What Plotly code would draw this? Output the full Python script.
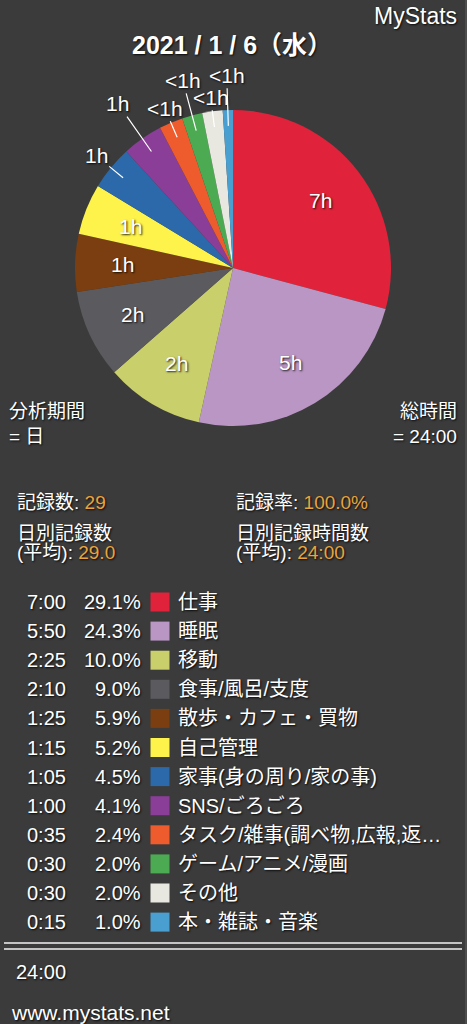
import math
import plotly.graph_objects as go

# ---------------- data ----------------
categories = ["仕事", "睡眠", "移動", "食事/風呂/支度", "散歩・カフェ・買物", "自己管理",
              "家事(身の周り/家の事)", "SNS/ごろごろ", "タスク/雑事(調べ物,広報,返…",
              "ゲーム/アニメ/漫画", "その他", "本・雑誌・音楽"]
minutes = [420, 350, 145, 130, 85, 75, 65, 60, 35, 30, 30, 15]
percent_labels = ["29.1%", "24.3%", "10.0%", "9.0%", "5.9%", "5.2%",
                  "4.5%", "4.1%", "2.4%", "2.0%", "2.0%", "1.0%"]
slice_labels = ["7h", "5h", "2h", "2h", "1h", "1h", "1h", "1h", "<1h", "<1h", "<1h", "<1h"]
colors = ["#e0233a", "#b996c3", "#c9cf6b", "#5b5a5f", "#7b3e10", "#fdf34b",
          "#2b69aa", "#8a3e97", "#ee5b2c", "#4caa52", "#e9e8e0", "#4a9fd1"]

title_text = "2021 / 1 / 6（水）"
record_count = "29"
record_rate = "100.0%"
daily_count_avg = "29.0"
daily_hours_avg = "24:00"
total_time = "24:00"

# ---------------- layout constants ----------------
W, H = 467, 1024
BG = "#3b3b3b"
ORANGE = "#e9a43c"
FONT = "Liberation Sans, Noto Sans CJK JP, sans-serif"
SHADOW = "1px 1px 2px rgba(0,0,0,0.85)"
cx, cy, R = 233, 268, 158


def px(x):
    return x / W


def py(y):
    return 1 - y / H


def hm(m):
    return f"{m // 60}:{m % 60:02d}"


fig = go.Figure()

fig.add_trace(go.Pie(
    values=minutes, labels=categories, sort=False, direction="clockwise", rotation=0,
    marker=dict(colors=colors, line=dict(width=0)),
    textinfo="none", hoverinfo="skip", showlegend=False,
    domain=dict(x=[px(cx - R), px(cx + R)], y=[py(cy + R), py(cy - R)]),
))

ann = []
total = sum(minutes)
cum = 0
k = 0
far = [1.12, 1.27, 1.10, 1.23, 1.09, 1.22]   # label distance (× radius) for outside labels
outside_idx = [6, 7, 8, 9, 10, 11]
for i, v in enumerate(minutes):
    mid = math.radians((cum + v / 2) / total * 360)
    cum += v
    s, c = math.sin(mid), math.cos(mid)
    font = dict(family=FONT, size=21, color="white", shadow=SHADOW)
    if i not in outside_idx:
        r = 0.70 * R
        ann.append(dict(x=px(cx + r * s), y=py(cy - r * c), xref="paper", yref="paper",
                        text=slice_labels[i], showarrow=False, font=font,
                        xanchor="center", yanchor="middle"))
    else:
        r0 = 0.90 * R
        r1 = far[k] * R
        ann.append(dict(x=px(cx + r0 * s), y=py(cy - r0 * c), xref="paper", yref="paper",
                        ax=(r1 - r0) * s, ay=-(r1 - r0) * c,
                        text=slice_labels[i], showarrow=True, arrowhead=0, arrowwidth=1.2,
                        arrowcolor="white", standoff=0, font=font))
        k += 1


def text(x, y, t, size=19, anchor="left", color="white", bold=False, shadow=SHADOW):
    f = dict(family=FONT, size=size, color=color, shadow=shadow)
    if bold:
        f["weight"] = "bold"
    ann.append(dict(x=px(x), y=py(y), xref="paper", yref="paper", text=t,
                    showarrow=False, xanchor=anchor, yanchor="middle", font=f))


text(459, 16, "MyStats", size=23, anchor="right")
text(232, 45, title_text, size=25, anchor="center", bold=True)

text(7, 411, "分析期間")
text(7, 436, "= 日")
text(459, 411, "総時間", anchor="right")
text(459, 436, "= " + total_time, anchor="right")

sp = lambda v: f"<span style='color:{ORANGE}'>{v}</span>"
text(15, 502, "記録数: " + sp(record_count))
text(234, 502, "記録率: " + sp(record_rate))
text(15, 533, "日別記録数")
text(15, 552, "(平均): " + sp(daily_count_avg))
text(234, 533, "日別記録時間数")
text(234, 552, "(平均): " + sp(daily_hours_avg))

row0, step = 602, 29.1
rows_y = []
for i, cat in enumerate(categories):
    y = row0 + i * step
    rows_y.append(y)
    text(68, y, hm(minutes[i]), size=20, anchor="right")
    text(143, y, percent_labels[i], size=20, anchor="right")
    text(176, y, cat, size=20, anchor="left")

fig.add_trace(go.Scatter(
    x=[160] * len(categories), y=rows_y, mode="markers", hoverinfo="skip", showlegend=False,
    marker=dict(symbol="square", size=19, color=colors, line=dict(width=0)),
    xaxis="x", yaxis="y",
))

text(68, 972, total_time, size=20, anchor="right")
text(9, 1012, "www.mystats.net", size=21, anchor="left")

shapes = [
    dict(type="line", xref="paper", yref="paper", x0=px(4), x1=px(462), y0=py(943), y1=py(943),
         line=dict(color="#c4c4c4", width=2)),
    dict(type="line", xref="paper", yref="paper", x0=px(4), x1=px(462), y0=py(949), y1=py(949),
         line=dict(color="#c4c4c4", width=2)),
    dict(type="line", xref="paper", yref="paper", x0=px(466), x1=px(466), y0=0, y1=1,
         line=dict(color="#4d4d4d", width=2)),
]

fig.update_layout(
    width=W, height=H, margin=dict(l=0, r=0, t=0, b=0),
    paper_bgcolor=BG, plot_bgcolor="rgba(0,0,0,0)",
    xaxis=dict(range=[0, W], domain=[0, 1], visible=False, fixedrange=True),
    yaxis=dict(range=[H, 0], domain=[0, 1], visible=False, fixedrange=True),
    annotations=ann, shapes=shapes, hovermode=False,
)

fig.write_html(
    "out.html",
    config={"displayModeBar": False},
    post_script="document.body.style.margin='0';document.body.style.overflow='hidden';"
                "document.body.style.background='" + BG + "';",
)
